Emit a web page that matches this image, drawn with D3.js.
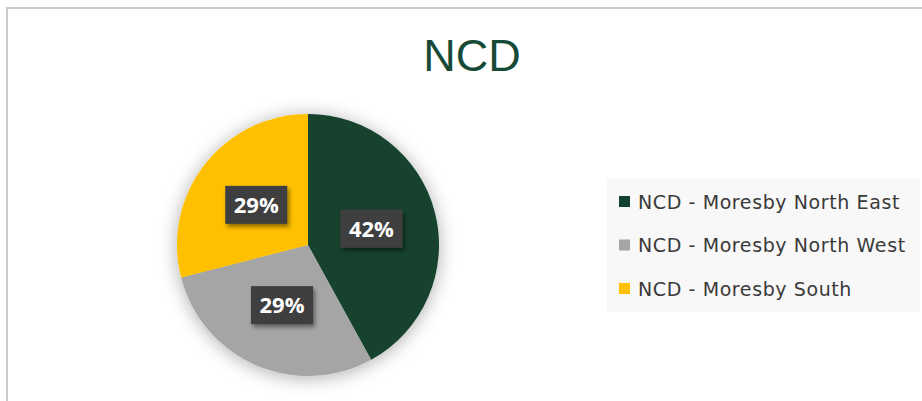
<!DOCTYPE html>
<html>
<head>
<meta charset="utf-8">
<script src="https://cdn.jsdelivr.net/npm/d3@7"></script>
<style>
    body { margin: 0; background: #fff; }
    svg { display: block; }
</style>
</head>
<body>
<svg width="922" height="401"></svg>
<script>
var title = "NCD";
var categories = ["NCD - Moresby North East", "NCD - Moresby North West", "NCD - Moresby South"];
var values = [42, 29, 29];
var colors = ["#12422f", "#a5a5a5", "#ffc000"];

var svg = d3.select("svg"),
    width = +svg.attr("width"),
    height = +svg.attr("height");

var cx = 308, cy = 245, radius = 131;

var defs = svg.append("defs");

var shadow = defs.append("filter")
    .attr("id", "pieShadow")
    .attr("x", "-30%").attr("y", "-30%")
    .attr("width", "160%").attr("height", "160%");
shadow.append("feDropShadow")
    .attr("dx", 0).attr("dy", 2)
    .attr("stdDeviation", 9)
    .attr("flood-color", "#000")
    .attr("flood-opacity", 0.32);

var boxShadow = defs.append("filter")
    .attr("id", "boxShadow")
    .attr("x", "-30%").attr("y", "-30%")
    .attr("width", "160%").attr("height", "160%");
boxShadow.append("feDropShadow")
    .attr("dx", 2).attr("dy", 3)
    .attr("stdDeviation", 2)
    .attr("flood-color", "#000")
    .attr("flood-opacity", 0.45);

// dotted texture on the label boxes
var pat = defs.append("pattern")
    .attr("id", "dots")
    .attr("width", 4).attr("height", 4)
    .attr("patternUnits", "userSpaceOnUse");
pat.append("rect").attr("width", 4).attr("height", 4).attr("fill", "#3e3e3e");
pat.append("rect").attr("x", 1).attr("y", 1).attr("width", 1).attr("height", 1).attr("fill", "#474747");
pat.append("rect").attr("x", 3).attr("y", 3).attr("width", 1).attr("height", 1).attr("fill", "#474747");

// chart area border (only top/left visible)
svg.append("rect")
    .attr("x", 7).attr("y", 8)
    .attr("width", width + 20).attr("height", height + 20)
    .attr("fill", "#fff")
    .attr("stroke", "#cacaca")
    .attr("stroke-width", 2);

svg.append("text")
    .attr("x", 472)
    .attr("y", 71)
    .attr("text-anchor", "middle")
    .style("font-family", "'Liberation Sans', Arial, sans-serif")
    .style("font-size", "45px")
    .style("fill", "#174a36")
    .text(title);

var pie = d3.pie().sort(null).value(function(d) { return d; });
var arcs = pie(values);

var arc = d3.arc().innerRadius(0).outerRadius(radius);
var labelArc = d3.arc().innerRadius(radius * 0.5).outerRadius(radius * 0.5);

var g = svg.append("g")
    .attr("transform", "translate(" + cx + "," + cy + ")");

g.append("g")
    .attr("filter", "url(#pieShadow)")
    .selectAll("path")
    .data(arcs)
    .enter().append("path")
        .attr("d", arc)
        .attr("fill", function(d, i) { return colors[i]; });

var fmt = d3.format(".0%");
var total = d3.sum(values);

var labels = g.selectAll(".lbl")
    .data(arcs)
    .enter().append("g")
        .attr("class", "lbl")
        .attr("transform", function(d) { return "translate(" + labelArc.centroid(d) + ")"; });

labels.append("rect")
    .attr("x", -31).attr("y", -19)
    .attr("width", 62).attr("height", 38)
    .attr("fill", "url(#dots)")
    .attr("filter", "url(#boxShadow)");

labels.append("text")
    .attr("text-anchor", "middle")
    .attr("dy", "0.36em")
    .style("font-family", "'Open Sans', sans-serif")
    .style("font-weight", "bold")
    .style("font-size", "22px")
    .style("fill", "#fff")
    .text(function(d) { return fmt(d.value / total); });

// legend
var legend = svg.append("g").attr("transform", "translate(607,179)");

legend.append("rect")
    .attr("width", 313).attr("height", 133)
    .attr("fill", "#f8f8f8");

var rowY = d3.scalePoint().domain(categories).range([23, 110]);

var items = legend.selectAll(".item")
    .data(categories)
    .enter().append("g")
        .attr("class", "item")
        .attr("transform", function(d) { return "translate(12," + rowY(d) + ")"; });

items.append("rect")
    .attr("x", 0).attr("y", -6)
    .attr("width", 11).attr("height", 11)
    .attr("fill", function(d, i) { return colors[i]; });

items.append("text")
    .attr("x", 19)
    .attr("dy", "0.36em")
    .style("font-family", "'DejaVu Sans', sans-serif")
    .style("font-size", "19px")
    .style("letter-spacing", "0.6px")
    .style("fill", "#3a3a3a")
    .text(function(d) { return d; });
</script>
</body>
</html>
